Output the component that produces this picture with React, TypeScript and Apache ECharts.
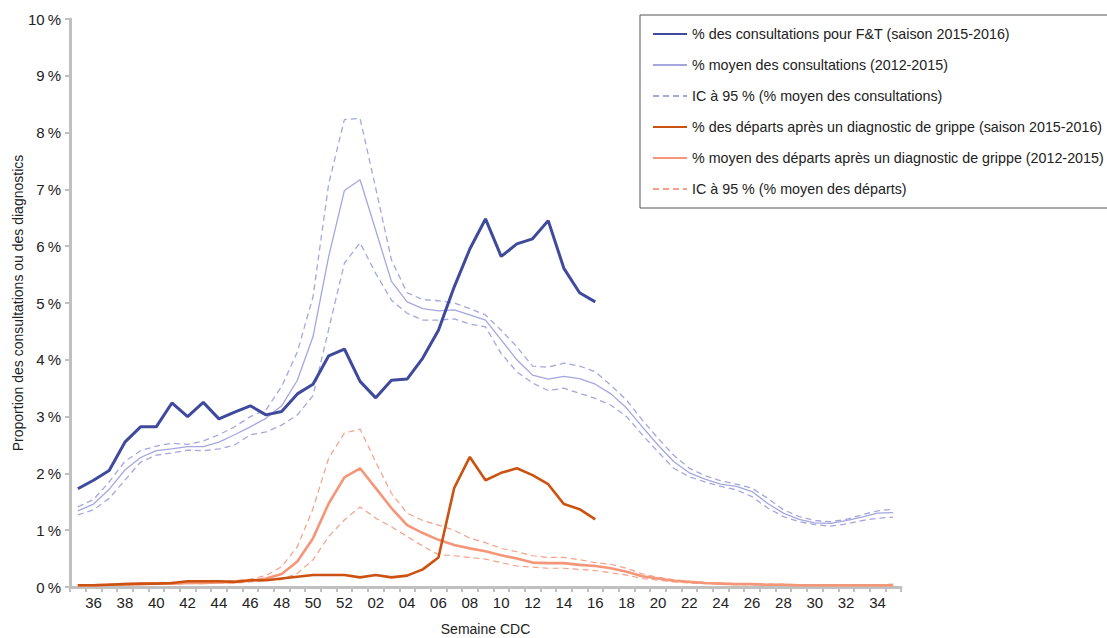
import React, { useEffect, useRef } from "react";
import * as echarts from "echarts";

const weeks: string[] = [
  "35","36","37","38","39","40","41","42","43","44","45","46","47","48","49","50","51","52",
  "01","02","03","04","05","06","07","08","09","10","11","12","13","14","15","16","17","18",
  "19","20","21","22","23","24","25","26","27","28","29","30","31","32","33","34","35",
];

const yTicks: number[] = [0, 1, 2, 3, 4, 5, 6, 7, 8, 9, 10];

const consult2015: number[] = [
  1.73, 1.88, 2.05, 2.55, 2.82, 2.82, 3.24, 3.0, 3.25, 2.96, 3.08, 3.19, 3.03, 3.09, 3.4, 3.57, 4.07, 4.19,
  3.62, 3.33, 3.64, 3.66, 4.03, 4.52, 5.28, 5.95, 6.48, 5.82, 6.04, 6.13, 6.45, 5.61, 5.18, 5.02,
];

const consultMean: number[] = [
  1.34, 1.46, 1.72, 2.06, 2.28, 2.4, 2.43, 2.47, 2.47, 2.55, 2.68, 2.82, 2.97, 3.19, 3.64, 4.41, 5.82, 6.98,
  7.17, 6.28, 5.38, 5.02, 4.9, 4.86, 4.88, 4.79, 4.7, 4.35, 4.0, 3.73, 3.66, 3.71, 3.67, 3.57, 3.4, 3.15,
  2.82, 2.5, 2.21, 2.01, 1.9, 1.81, 1.77, 1.68, 1.47, 1.3, 1.19, 1.13, 1.12, 1.17, 1.23, 1.3, 1.31,
];

const consultUpper: number[] = [
  1.41, 1.54, 1.85, 2.21, 2.4, 2.48, 2.53, 2.51, 2.57, 2.68, 2.82, 3.0, 3.12, 3.53, 4.14, 5.11, 7.1, 8.23,
  8.25, 7.02, 5.76, 5.18, 5.06, 5.04, 5.0, 4.9, 4.79, 4.52, 4.23, 3.89, 3.87, 3.94, 3.89, 3.79, 3.55, 3.29,
  2.94, 2.62, 2.32, 2.09, 1.96, 1.87, 1.81, 1.74, 1.56, 1.36, 1.24, 1.17, 1.15, 1.19, 1.27, 1.34, 1.37,
];

const consultLower: number[] = [
  1.27, 1.36, 1.56, 1.88, 2.2, 2.32, 2.36, 2.41, 2.4, 2.43, 2.5, 2.68, 2.73, 2.85, 3.03, 3.37, 4.54, 5.7,
  6.06, 5.52, 5.05, 4.82, 4.7, 4.7, 4.72, 4.63, 4.58, 4.11, 3.79, 3.59, 3.46, 3.5, 3.41, 3.32, 3.2, 3.0,
  2.68, 2.38, 2.09, 1.94, 1.85, 1.77, 1.71, 1.59, 1.39, 1.24, 1.15, 1.1, 1.07, 1.11, 1.17, 1.21, 1.23,
];

const depart2015: number[] = [
  0.03, 0.03, 0.04, 0.05, 0.06, 0.06, 0.07, 0.1, 0.1, 0.1, 0.09, 0.12, 0.12, 0.15, 0.18, 0.21, 0.21, 0.21,
  0.17, 0.21, 0.17, 0.2, 0.31, 0.52, 1.74, 2.29, 1.88, 2.01, 2.09, 1.97, 1.81, 1.46, 1.37, 1.19,
];

const departMean: number[] = [
  0.03, 0.03, 0.04, 0.05, 0.05, 0.06, 0.06, 0.07, 0.07, 0.08, 0.09, 0.11, 0.15, 0.23, 0.45, 0.86, 1.47, 1.93,
  2.09, 1.74, 1.39, 1.09, 0.95, 0.83, 0.74, 0.68, 0.63, 0.56, 0.5, 0.43, 0.42, 0.42, 0.39, 0.37, 0.33, 0.27,
  0.19, 0.15, 0.11, 0.09, 0.07, 0.06, 0.05, 0.05, 0.04, 0.04, 0.03, 0.03, 0.03, 0.03, 0.03, 0.03, 0.03,
];

const departUpper: number[] = [
  0.04, 0.04, 0.05, 0.06, 0.07, 0.07, 0.08, 0.08, 0.09, 0.1, 0.11, 0.14, 0.2, 0.36, 0.71, 1.38, 2.27, 2.71,
  2.78, 2.2, 1.65, 1.3, 1.17, 1.09, 1.0, 0.86, 0.78, 0.68, 0.62, 0.55, 0.52, 0.52, 0.48, 0.43, 0.4, 0.33,
  0.23, 0.17, 0.13, 0.1, 0.08, 0.07, 0.06, 0.06, 0.05, 0.05, 0.04, 0.04, 0.04, 0.04, 0.04, 0.04, 0.05,
];

const departLower: number[] = [
  0.02, 0.02, 0.03, 0.04, 0.04, 0.05, 0.05, 0.06, 0.06, 0.07, 0.07, 0.09, 0.11, 0.13, 0.24, 0.48, 0.89, 1.18,
  1.41, 1.21, 1.06, 0.89, 0.72, 0.57, 0.55, 0.52, 0.49, 0.43, 0.37, 0.35, 0.33, 0.33, 0.31, 0.29, 0.25, 0.21,
  0.15, 0.12, 0.09, 0.07, 0.06, 0.05, 0.04, 0.04, 0.03, 0.03, 0.02, 0.02, 0.02, 0.02, 0.02, 0.02, 0.02,
];

const NAMES = {
  c2015: "% des consultations pour F&T (saison 2015-2016)",
  cMean: "% moyen des consultations (2012-2015)",
  cIC: "IC à 95 % (% moyen des consultations)",
  d2015: "% des départs après un diagnostic de grippe (saison 2015-2016)",
  dMean: "% moyen des départs après un diagnostic de grippe (2012-2015)",
  dIC: "IC à 95 % (% moyen des départs)",
};

const DARK_BLUE = "#3F4A9C";
const LIGHT_BLUE = "#A4A7DE";
const DARK_ORANGE = "#CC5211";
const SALMON = "#F59679";
const SALMON_LIGHT = "#F5A088";

const FONT = "'Liberation Sans', Arial, sans-serif";

export default function App() {
  const ref = useRef<HTMLDivElement>(null);

  useEffect(() => {
    if (!ref.current) return;
    const chart = echarts.init(ref.current, undefined, { renderer: "svg" });

    const line = (name: string, data: number[], color: string, width: number, dashed: boolean, z: number) => ({
      name,
      type: "line",
      data,
      symbol: "none",
      showSymbol: false,
      z,
      lineStyle: { color, width, type: dashed ? [6, 4] : "solid" },
      itemStyle: { color },
      emphasis: { disabled: true },
    });

    chart.setOption({
      animation: false,
      textStyle: { fontFamily: FONT },
      grid: { left: 70, right: 206, top: 19, bottom: 51, containLabel: false, outerBoundsMode: "none" },
      legend: {
        orient: "vertical",
        left: 640,
        top: 15,
        padding: [12, 8, 12, 12],
        itemWidth: 34,
        itemHeight: 14,
        itemGap: 17,
        borderColor: "#555555",
        borderWidth: 1,
        backgroundColor: "#ffffff",
        itemStyle: { color: "rgba(0,0,0,0)", borderColor: "rgba(0,0,0,0)", borderWidth: 0, opacity: 0 },
        textStyle: { fontSize: 14.3, color: "#222222", fontFamily: FONT },
        data: [NAMES.c2015, NAMES.cMean, NAMES.cIC, NAMES.d2015, NAMES.dMean, NAMES.dIC],
      },
      xAxis: {
        type: "category",
        data: weeks,
        boundaryGap: true,
        name: "Semaine CDC",
        nameLocation: "middle",
        nameGap: 35,
        nameMoveOverlap: false,
        nameTextStyle: { fontSize: 14, color: "#222222", fontFamily: FONT },
        axisLine: { lineStyle: { color: "#C0C0C0", width: 3 } },
        axisTick: { show: true, interval: 0, length: 5, lineStyle: { color: "#C0C0C0", width: 2 } },
        axisLabel: {
          interval: (i: number) => i % 2 === 1,
          fontSize: 15,
          color: "#222222",
          margin: 8,
          fontFamily: FONT,
        },
        splitLine: { show: false },
      },
      yAxis: {
        type: "value",
        min: yTicks[0],
        max: yTicks[yTicks.length - 1],
        interval: 1,
        name: "Proportion des consultations ou des diagnostics",
        nameLocation: "middle",
        nameGap: 45,
        nameRotate: 90,
        nameMoveOverlap: false,
        nameTextStyle: { fontSize: 14, color: "#222222", fontFamily: FONT },
        axisLine: { show: true, lineStyle: { color: "#C0C0C0", width: 3 } },
        axisTick: { show: true, length: 5, lineStyle: { color: "#C0C0C0", width: 2 } },
        axisLabel: {
          formatter: (v: number) => `${v}\u2009%`,
          fontSize: 15,
          color: "#222222",
          margin: 9,
          fontFamily: FONT,
        },
        splitLine: { show: false },
      },
      series: [
        line(NAMES.dIC, departUpper, SALMON_LIGHT, 1.2, true, 1),
        line(NAMES.dIC, departLower, SALMON_LIGHT, 1.2, true, 1),
        line(NAMES.cIC, consultUpper, LIGHT_BLUE, 1.3, true, 1),
        line(NAMES.cIC, consultLower, LIGHT_BLUE, 1.3, true, 1),
        line(NAMES.cMean, consultMean, LIGHT_BLUE, 1.3, false, 2),
        line(NAMES.dMean, departMean, SALMON, 2.6, false, 2),
        line(NAMES.d2015, depart2015, DARK_ORANGE, 2.6, false, 3),
        line(NAMES.c2015, consult2015, DARK_BLUE, 3, false, 3),
      ],
    });

    return () => chart.dispose();
  }, []);

  return (
    <div
      ref={ref}
      style={{ position: "fixed", left: 0, top: 0, width: 1107, height: 638, background: "#ffffff" }}
    />
  );
}
